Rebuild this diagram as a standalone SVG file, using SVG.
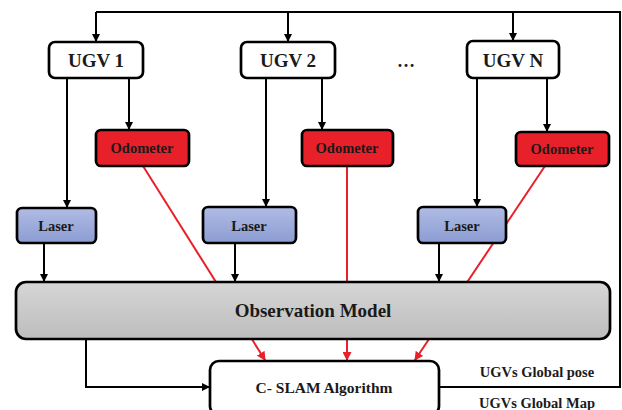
<svg xmlns="http://www.w3.org/2000/svg" width="622" height="410" viewBox="0 0 622 410">
<defs>
<linearGradient id="gLaser" x1="0" y1="0" x2="0" y2="1"><stop offset="0" stop-color="#b0bce4"/><stop offset="1" stop-color="#8c9cd2"/></linearGradient>
<linearGradient id="gObs" x1="0" y1="0" x2="0" y2="1"><stop offset="0" stop-color="#d6d6d6"/><stop offset="1" stop-color="#bdbdbd"/></linearGradient>
<marker id="ab" markerWidth="8" markerHeight="8" refX="7" refY="4" orient="auto" markerUnits="userSpaceOnUse"><path d="M0,0 L8,4 L0,8 Z" fill="#000"/></marker>
<marker id="ar" markerWidth="9" markerHeight="9" refX="8" refY="4.5" orient="auto" markerUnits="userSpaceOnUse"><path d="M0,0 L9,4.5 L0,9 Z" fill="#e8202a"/></marker>
</defs>
<style>
.box{stroke:#000;stroke-width:2.7}
.t{font-family:"Liberation Serif","Times New Roman",serif;font-weight:bold;text-anchor:middle;fill:#1a1a1a}
.blk{stroke:#000;stroke-width:2;fill:none}
.red{stroke:#e8202a;stroke-width:2;fill:none}
</style>
<rect width="622" height="410" fill="#fff"/>
<g id="connectors">
<polyline class="blk" points="96,12 620,12 620,387 439,387"/>
<line class="blk" x1="96" y1="12" x2="96" y2="41" marker-end="url(#ab)"/>
<line class="blk" x1="288" y1="12" x2="288" y2="41" marker-end="url(#ab)"/>
<line class="blk" x1="513" y1="12" x2="513" y2="40" marker-end="url(#ab)"/>
<line class="blk" x1="67" y1="78" x2="67" y2="207" marker-end="url(#ab)"/>
<line class="blk" x1="129" y1="78" x2="129" y2="129" marker-end="url(#ab)"/>
<line class="blk" x1="266" y1="78" x2="266" y2="206" marker-end="url(#ab)"/>
<line class="blk" x1="322" y1="78" x2="322" y2="129" marker-end="url(#ab)"/>
<line class="blk" x1="477" y1="78" x2="477" y2="206" marker-end="url(#ab)"/>
<line class="blk" x1="547" y1="78" x2="547" y2="131" marker-end="url(#ab)"/>
<line class="blk" x1="44" y1="243" x2="44" y2="281" marker-end="url(#ab)"/>
<line class="blk" x1="235" y1="243" x2="235" y2="281" marker-end="url(#ab)"/>
<line class="blk" x1="439" y1="243" x2="439" y2="281" marker-end="url(#ab)"/>
<polyline class="blk" points="86,339 86,387 209,387" marker-end="url(#ab)"/>
<line class="red" x1="143" y1="166" x2="265" y2="360" marker-end="url(#ar)"/>
<line class="red" x1="347" y1="166" x2="347" y2="360" marker-end="url(#ar)"/>
<line class="red" x1="545" y1="166" x2="415" y2="360" marker-end="url(#ar)"/>
</g>
<g id="ugv1"><rect class="box" x="49" y="42" width="94" height="36" rx="6" fill="#fff"/><text class="t" x="96" y="67" font-size="19">UGV 1</text></g>
<g id="ugv2"><rect class="box" x="241" y="42" width="94" height="36" rx="6" fill="#fff"/><text class="t" x="288" y="67" font-size="19">UGV 2</text></g>
<g id="dots"><text class="t" x="406" y="67" font-size="18">…</text></g>
<g id="ugvn"><rect class="box" x="467" y="41" width="92" height="37" rx="6" fill="#fff"/><text class="t" x="513" y="67" font-size="19">UGV N</text></g>
<g id="odo1"><rect class="box" x="96" y="130" width="93" height="36" rx="5" fill="#e8202a"/><text class="t" x="142" y="153" font-size="14.5" fill="#3a0a0a">Odometer</text></g>
<g id="odo2"><rect class="box" x="302" y="130" width="91" height="36" rx="5" fill="#e8202a"/><text class="t" x="347" y="153" font-size="14.5" fill="#3a0a0a">Odometer</text></g>
<g id="odon"><rect class="box" x="516" y="132" width="93" height="34" rx="5" fill="#e8202a"/><text class="t" x="562" y="154" font-size="14.5" fill="#3a0a0a">Odometer</text></g>
<g id="laser1"><rect class="box" x="17" y="208" width="79" height="35" rx="5" fill="url(#gLaser)"/><text class="t" x="56" y="231" font-size="14.5">Laser</text></g>
<g id="laser2"><rect class="box" x="203" y="207" width="93" height="36" rx="5" fill="url(#gLaser)"/><text class="t" x="249" y="231" font-size="14.5">Laser</text></g>
<g id="lasern"><rect class="box" x="418" y="207" width="88" height="36" rx="5" fill="url(#gLaser)"/><text class="t" x="462" y="231" font-size="14.5">Laser</text></g>
<g id="obs"><rect class="box" x="16" y="282" width="594" height="57" rx="10" fill="url(#gObs)"/><text class="t" x="313" y="317" font-size="19">Observation  Model</text></g>
<g id="slam"><rect class="box" x="210" y="361" width="229" height="54" rx="9" fill="#fff"/><text class="t" x="324" y="393" font-size="15.5">C- SLAM Algorithm</text></g>
<g id="labels">
<text class="t" x="537" y="377" font-size="14.5">UGVs Global pose</text>
<text class="t" x="537" y="408" font-size="14.5">UGVs Global Map</text>
</g>
</svg>
